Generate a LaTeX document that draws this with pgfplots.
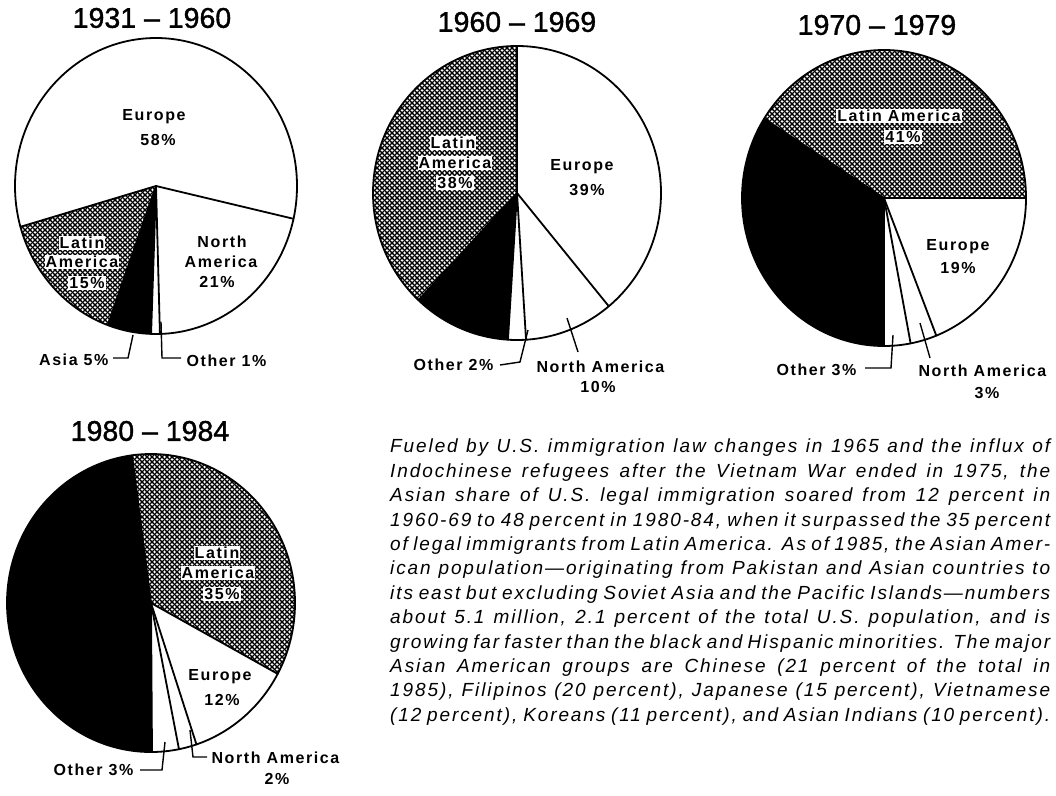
\documentclass[border=0pt]{standalone}
\usepackage{pgfplots}
\pgfplotsset{compat=1.18}
\usepackage{pgfplotstable}
\usepackage{fontspec}
\setmainfont{Liberation Sans}
\newfontfamily\labfont[LetterSpace=10]{Liberation Sans}
\newfontfamily\ttlfont[FakeBold=1.3]{Liberation Sans}
\newfontfamily\parafont[LetterSpace=10]{Liberation Sans}
\usetikzlibrary{patterns}

\pgfdeclarepatternformonly{halftone}{\pgfqpoint{0pt}{0pt}}{\pgfqpoint{4.5pt}{4.5pt}}{\pgfqpoint{4.5pt}{4.5pt}}{%
  \pgfsetlinewidth{1.5pt}%
  \pgfpathmoveto{\pgfqpoint{-1pt}{-1pt}}\pgfpathlineto{\pgfqpoint{5.5pt}{5.5pt}}%
  \pgfpathmoveto{\pgfqpoint{-1pt}{5.5pt}}\pgfpathlineto{\pgfqpoint{5.5pt}{-1pt}}%
  \pgfusepath{stroke}}

% shares of U.S. legal immigration by region of origin (percent), clockwise order
\pgfplotstableread{
cat pct
eu 58
na 21
ot 1
as 5
la 15
}\pieA
\pgfplotstableread{
cat pct
eu 39
na 10
ot 2
as 11
la 38
}\pieB
\pgfplotstableread{
cat pct
eu 19
na 3
ot 3
as 34
la 41
}\pieC
\pgfplotstableread{
cat pct
la 35
eu 12
na 2
ot 3
as 48
}\pieD

\tikzset{
  eu/.style={fill=white}, na/.style={fill=white}, ot/.style={fill=white},
  as/.style={fill=black},
  la/.style={fill=white, postaction={pattern=halftone}},
  pieline/.style={line width=1.8pt, line join=round, line cap=round},
  lead/.style={line width=1.4pt},
}

% #1 table, #2 start angle, #3 cx, #4 cy, #5 rx, #6 ry
\newcommand\drawpie[6]{%
  \pgfplotstablegetrowsof{#1}%
  \pgfmathtruncatemacro\lastrow{\pgfplotsretval-1}%
  \xdef\curang{#2}%
  \foreach \i in {0,...,\lastrow}{%
    \pgfplotstablegetelem{\i}{pct}\of{#1}\let\pct\pgfplotsretval
    \pgfplotstablegetelem{\i}{cat}\of{#1}\let\cat\pgfplotsretval
    \pgfmathsetmacro\endang{\curang-3.6*\pct}%
    \edef\temp{\noexpand\fill[\cat] (axis cs:#3,#4) -- ++(\curang:#5pt and #6pt) arc[start angle=\curang,end angle=\endang,x radius=#5pt,y radius=#6pt] -- cycle;}%
    \temp
    \xdef\curang{\endang}%
  }%
  \xdef\curang{#2}%
  \foreach \i in {0,...,\lastrow}{%
    \pgfplotstablegetelem{\i}{pct}\of{#1}\let\pct\pgfplotsretval
    \pgfmathsetmacro\endang{\curang-3.6*\pct}%
    \edef\temp{\noexpand\draw[pieline] (axis cs:#3,#4) -- ++(\curang:#5pt and #6pt);}%
    \temp
    \xdef\curang{\endang}%
  }%
  \draw[pieline] (axis cs:#3,#4) ellipse[x radius=#5pt, y radius=#6pt];
}

\newcommand\lab{\labfont\bfseries\fontsize{16}{19}\selectfont}
\newcommand\ttl{\ttlfont\fontsize{28.5}{30}\selectfont}

\begin{document}
\begin{tikzpicture}
\path[use as bounding box] (0,0) rectangle (1056pt,795pt);
\begin{axis}[at={(0pt,0pt)}, anchor=south west, scale only axis,
  width=1056pt, height=795pt, xmin=0, xmax=1056, ymin=0, ymax=795,
  y dir=reverse, hide axis, clip=false]

\drawpie{\pieA}{196}{156}{186}{141}{148}
\drawpie{\pieB}{90}{517}{193}{144}{147}
\drawpie{\pieC}{0}{884}{198}{142}{148}
\drawpie{\pieD}{97.6}{151}{603}{144}{149}

% titles
\node[font=\ttl] at (axis cs:152,18) {1931 – 1960};
\node[font=\ttl] at (axis cs:517,22) {1960 – 1969};
\node[font=\ttl] at (axis cs:877,25) {1970 – 1979};
\node[font=\ttl] at (axis cs:150,431) {1980 – 1984};

% pie 1 labels
\node[font=\lab] at (axis cs:154,117) {Europe};
\node[font=\lab] at (axis cs:158,140) {58\%};
\node[font=\lab, fill=white, inner sep=1pt] at (axis cs:82,243) {Latin};
\node[font=\lab, fill=white, inner sep=1pt] at (axis cs:82,262) {America};
\node[font=\lab, fill=white, inner sep=1pt] at (axis cs:87,283) {15\%};
\node[font=\lab] at (axis cs:222,242) {North};
\node[font=\lab] at (axis cs:221,262) {America};
\node[font=\lab] at (axis cs:217,282) {21\%};
\node[font=\lab, anchor=east] at (axis cs:112,360) {Asia 5\%};
\node[font=\lab, anchor=west] at (axis cs:183,361) {Other 1\%};
\draw[lead] (axis cs:133,335) -- (axis cs:128,358) -- (axis cs:113,358);
\draw[lead] (axis cs:161,322) -- (axis cs:162,358) -- (axis cs:181,358);

% pie 2 labels
\node[font=\lab, fill=white, inner sep=1pt] at (axis cs:453,143) {Latin};
\node[font=\lab, fill=white, inner sep=1pt] at (axis cs:455,163) {America};
\node[font=\lab, fill=white, inner sep=1pt] at (axis cs:455,183) {38\%};
\node[font=\lab] at (axis cs:582,167) {Europe};
\node[font=\lab] at (axis cs:587,190) {39\%};
\node[font=\lab, anchor=east] at (axis cs:497,365) {Other 2\%};
\node[font=\lab, anchor=west] at (axis cs:533,367) {North America};
\node[font=\lab] at (axis cs:598,387) {10\%};
\draw[lead] (axis cs:528,330) -- (axis cs:520,362) -- (axis cs:500,365);
\draw[lead] (axis cs:567,318) -- (axis cs:578,352);

% pie 3 labels
\node[font=\lab, fill=white, inner sep=1pt] at (axis cs:899,116) {Latin America};
\node[font=\lab, fill=white, inner sep=1pt] at (axis cs:903,137) {41\%};
\node[font=\lab] at (axis cs:958,247) {Europe};
\node[font=\lab] at (axis cs:958,268) {19\%};
\node[font=\lab, anchor=east] at (axis cs:860,370) {Other 3\%};
\node[font=\lab, anchor=west] at (axis cs:915,371) {North America};
\node[font=\lab] at (axis cs:987,393) {3\%};
\draw[lead] (axis cs:893,335) -- (axis cs:891,368) -- (axis cs:865,368);
\draw[lead] (axis cs:920,323) -- (axis cs:930,358);

% pie 4 labels
\node[font=\lab, fill=white, inner sep=1pt] at (axis cs:217,553) {Latin};
\node[font=\lab, fill=white, inner sep=1pt] at (axis cs:218,573) {America};
\node[font=\lab, fill=white, inner sep=1pt] at (axis cs:222,594) {35\%};
\node[font=\lab] at (axis cs:220,677) {Europe};
\node[font=\lab] at (axis cs:222,700) {12\%};
\node[font=\lab, anchor=east] at (axis cs:137,770) {Other 3\%};
\node[font=\lab, anchor=west] at (axis cs:208,758) {North America};
\node[font=\lab] at (axis cs:277,779) {2\%};
\draw[lead] (axis cs:165,742) -- (axis cs:162,770) -- (axis cs:140,770);
\draw[lead] (axis cs:190,730) -- (axis cs:193,757) -- (axis cs:207,757);

% paragraph
\node[anchor=north west, inner sep=0pt, align=left,
  font=\parafont\itshape\fontsize{19}{24.4}\selectfont] at (axis cs:390,439) {%
\hbox to 660pt{Fueled by U.S. immigration law changes in 1965 and the influx of}\\
\hbox to 660pt{Indochinese refugees after the Vietnam War ended in 1975, the}\\
\hbox to 660pt{Asian share of U.S. legal immigration soared from 12 percent in}\\
\hbox to 660pt{1960-69 to 48 percent in 1980-84, when it surpassed the 35 percent}\\
\hbox to 660pt{of legal immigrants from Latin America. As of 1985, the Asian Amer-}\\
\hbox to 660pt{ican population—originating from Pakistan and Asian countries to}\\
\hbox to 660pt{its east but excluding Soviet Asia and the Pacific Islands—numbers}\\
\hbox to 660pt{about 5.1 million, 2.1 percent of the total U.S. population, and is}\\
\hbox to 660pt{growing far faster than the black and Hispanic minorities. The major}\\
\hbox to 660pt{Asian American groups are Chinese (21 percent of the total in}\\
\hbox to 660pt{1985), Filipinos (20 percent), Japanese (15 percent), Vietnamese}\\
\hbox to 660pt{(12 percent), Koreans (11 percent), and Asian Indians (10 percent).}};
\end{axis}
\end{tikzpicture}
\end{document}
